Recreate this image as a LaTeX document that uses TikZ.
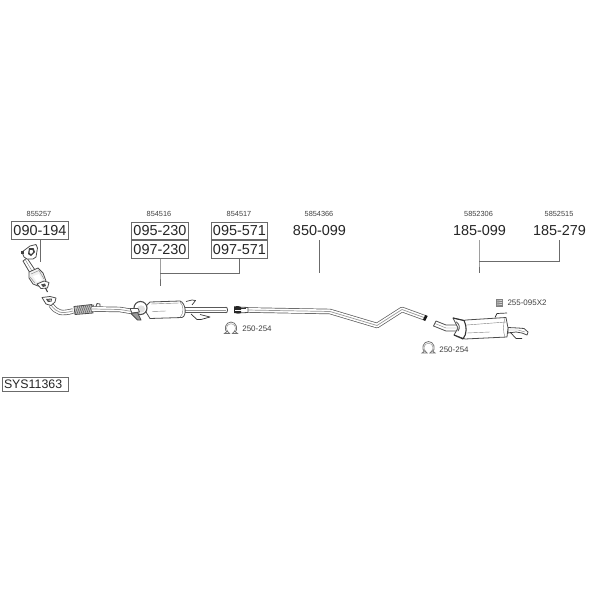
\documentclass[tikz,border=0pt]{standalone}
\usepackage{fontspec}
\usetikzlibrary{calc}
\setmainfont{Liberation Sans}
\definecolor{ink}{gray}{0.25}
\definecolor{edge}{gray}{0.42}
\tikzset{
  partno/.style={font=\fontsize{14.5}{15}\selectfont,text=black!85,inner sep=0pt},
  partbox/.style={partno,draw=edge,line width=0.8pt,minimum width=56.5bp,minimum height=17.5bp},
  code/.style={font=\fontsize{7.4}{8}\selectfont,text=ink,inner sep=0pt},
  note/.style={font=\fontsize{8}{9}\selectfont,text=ink,inner sep=0pt},
  link/.style={draw=edge,line width=0.8pt},
  outl/.style={draw=black!70,line width=0.8pt,line join=round,line cap=round},
  thin line/.style={draw=black!50,line width=0.4pt},
  hook/.style={draw=black!80,line width=0.7pt,line join=round},
  tubeA/.style={draw=black!65,line width=5.4bp,line join=round},
  tubeB/.style={draw=white,line width=4bp,line join=round},
  tubeC/.style={draw=black!40,line width=0.7bp,line join=round},
  clampring/.style={draw=black!55,line width=0.8pt,fill=white},
}
\newcommand{\tubepath}[1]{%
  \draw[tubeA] #1; \draw[tubeB] #1; \draw[tubeC] #1;}
\newcommand{\clampicon}[1]{%
  \begin{scope}[shift={#1}]
    \draw[clampring] (-3.6,5) .. controls (-8,1) and (-5,-6) .. (0,-6)
       .. controls (5,-6) and (8,1) .. (3.6,5);
    \draw[draw=black!45,line width=0.4pt] (-3.4,3.2) .. controls (-6,0) and (-3.5,-4.2) .. (0,-4.2)
       .. controls (3.5,-4.2) and (6,0) .. (3.4,3.2);
    \draw[clampring] (-6.5,5.5) -- (-3.6,3.2) -- (-1.5,5.5) -- cycle;
    \draw[clampring] (6.5,5.5) -- (3.6,3.2) -- (1.5,5.5) -- cycle;
  \end{scope}}
\begin{document}
\begin{tikzpicture}[x=1bp,y=-1bp]
\useasboundingbox (0,0) rectangle (600,600);
\fill[white] (0,0) rectangle (600,600);

% ---------- codes
\node[code] (c1) at (39,214) {855257};
\node[code] (c2) at (159,214) {854516};
\node[code] (c3) at (239,214) {854517};
\node[code] (c4) at (319,214) {5854366};
\node[code] (c5) at (478.5,214) {5852306};
\node[code] (c6) at (559,214) {5852515};

% ---------- part numbers
\node[partbox] (a) at (40,230.5) {090-194};
\node[partbox] (b1) at (160,231) {095-230};
\node[partbox] (b2) at (160,249.5) {097-230};
\node[partbox] (c1b) at (239.5,231) {095-571};
\node[partbox] (c2b) at (239.5,249.5) {097-571};
\node[partno] (d) at (319.5,230.5) {850-099};
\node[partno] (e) at (479.5,230.5) {185-099};
\node[partno] (f) at (559.5,230.5) {185-279};
\node[draw=edge,line width=0.8pt,font=\fontsize{12.4}{13}\selectfont,text=black!85,
      minimum width=66bp,minimum height=14bp,inner sep=0pt,text width=62bp,align=left] (sys) at (35,384) {SYS11363};

% ---------- connectors
\coordinate (aend) at (40,262);
\coordinate (bjoin) at (160,273);
\coordinate (bend) at (160,285.5);
\coordinate (cjoin) at (239.5,273);
\coordinate (dtop) at (319.5,240);
\coordinate (dend) at (319.5,273);
\coordinate (etop) at (479,240);
\coordinate (ejoin) at (479,261.5);
\coordinate (eend) at (479,272.5);
\coordinate (ftop) at (559.5,240);
\coordinate (fjoin) at (559.5,261.5);
\draw[link] (a.south) -- (aend);
\draw[link] (b1.south) -- (b2.north);
\draw[link] (c1b.south) -- (c2b.north);
\draw[link] (b2.south) -- (bjoin) -- (bend);
\draw[link] (c2b.south) -- (cjoin) -- (bjoin);
\draw[link] (dtop) -- (dend);
\draw[link] (etop) -- (ejoin) -- (eend);
\draw[link] (ftop) -- (fjoin) -- (ejoin);

% ---------- catalytic converter
\draw[outl,fill=white] (27,258) -- (35,270) -- (30,273) -- (23,261) -- cycle;
\draw[thin line] (25.5,260) -- (32,271);
\draw[outl,fill=white] (22,252) -- (30,246) -- (36,244.5) -- (37.5,248) -- (36,257) -- (33,259) -- (27,259) -- (24,257) -- cycle;
\fill[black!75] (29,248) -- (33.5,248) -- (35,252) -- (31,256) -- (28,254) -- cycle;
\fill[white] (30,250) -- (32.5,250) -- (33,252) -- (31,254) -- (29.5,252.5) -- cycle;
\fill[black!75] (20.5,250.5) rectangle (24,254);
\draw[outl,fill=black!6] (29,272) -- (38,268) -- (43,273) -- (46,281) -- (38,286) -- (33,284) -- (29,278) -- cycle;
\draw[thin line] (31,274) -- (39,270.5) -- (44,279);
\draw[thin line] (30,277) -- (35,283);
\fill[white] (33,276) -- (39,274) -- (42,280) -- (37,282) -- cycle;
\draw[outl,fill=white] (37,284) -- (44,281) -- (49,282.5) -- (47.5,288) -- (41,288.5) -- cycle;
\fill[black!70] (41,284.5) -- (45,283.5) -- (46,286) -- (43,287) -- cycle;
\draw[draw=black!80,line width=1pt] (45.5,288) -- (47.5,292);

% ---------- front pipe
\tubepath{(51,305) .. controls (57,313) and (61,314) .. (73,311)}
\draw[outl,fill=white] (42,297.5) -- (50,296.5) -- (56,298) -- (55,302) -- (51,305.5) -- (46,304) -- cycle;
\fill[black!70] (46,299) -- (52,298.5) -- (51.5,301.5) -- (48,302) -- cycle;
\fill[white] (48,300) -- (51,299.5) -- (50.5,300.8) -- cycle;
\draw[outl,fill=black!25] (74,306.5) -- (92,304.5) -- (93,313) -- (75,314.5) -- cycle;
\foreach \i in {0,2,...,16} {\draw[draw=black!65,line width=0.5pt] ($(75,314)+(\i,-0.1*\i)$) -- ++(3,-8);}
\draw[outl] (96,306.5) -- (97,303.5) -- (100,304) -- (100,306.5);
\tubepath{(92,309) -- (120,309.5) -- (132,311.5)}

% ---------- front silencer
\tubepath{(184,310) -- (226,310)}
\draw[outl,fill=white] (226,307.2) .. controls (228,307.2) and (228,312.8) .. (226,312.8);
\draw[outl,fill=white] (150,302) -- (180,301) .. controls (186,303) and (187,316) .. (182,317.5)
   -- (150,318.5) -- (146,312) -- (146,306) -- cycle;
\draw[thin line] (152,311.5) -- (166,311);
\draw[thin line] (151,304) -- (179,303);
\draw[thin line] (180,302) .. controls (184,306) and (184,313) .. (180,317.5);
\draw[draw=black!70,line width=1.1pt,fill=white] (140.5,308) ellipse[x radius=6.5,y radius=6.5];
\fill[black!12] (141,309) ellipse[x radius=4,y radius=3.6];
\draw[outl,fill=white] (130,308.5) -- (138,308.5) -- (139.5,312) -- (132,313) -- cycle;
\draw[outl,fill=black!40] (131,313.5) -- (137.5,312.5) -- (141,320) -- (137.5,320) -- cycle;
\draw[hook] (186,301.5) -- (192,300) -- (195.5,300.5) -- (192,305);
\draw[hook] (191,314) -- (197,319.5) -- (201,319.5) -- (210,317) -- (200,314.5);

% ---------- centre pipe
\tubepath{(247,310) -- (330,311.5) -- (377,325.5) -- (402,309.5) -- (424,317.5)}
\draw[outl,fill=white] (237,307) -- (248,307.5) -- (248,312.5) -- (237,313) -- cycle;
\fill[black!85] (234,306.5) -- (238,306) -- (241,307) -- (241,313) -- (238,313.5) -- (234,313) -- cycle;
\draw[draw=white,line width=0.8pt] (235,310) -- (246,310);
\draw[draw=black!80,line width=0.8pt] (241,308.5) -- (246,308.5);
\draw[draw=black!90,line width=2.6pt] (426.5,315.5) -- (424,320.5);

% ---------- rear silencer
\draw[outl,fill=white] (436,321) -- (446,325) -- (459,325) -- (459,331) -- (446,331) -- (433.5,326) -- cycle;
\draw[thin line] (435,323.5) -- (446,328) -- (458,328);
\draw[outl,fill=white] (508,327.5) -- (518,328) -- (524,328.5) -- (528,332) -- (527,335) -- (522,333) -- (516,332) -- (508,333) -- cycle;
\draw[thin line] (509,330) -- (518,330) -- (525,332);
\draw[outl,fill=white] (453,318) -- (464,320.5) -- (466,320) -- (506,317.5) -- (508,328) -- (507,337) -- (465,339) -- (454,335) -- (458,328) -- cycle;
\draw[draw=black!80,line width=1.1pt,line join=round] (453,318) -- (464,320.5) .. controls (467,326) and (467,334) .. (463,339) -- (454,335);
\draw[thin line] (467,325) -- (506,322);
\draw[thin line] (467,333) -- (490,332);
\draw[thin line] (505,318) .. controls (503,324) and (503,332) .. (505,337);
\draw[outl] (456.5,322) .. controls (460,325) and (460,328) .. (458,331);
\draw[hook] (495,317.5) -- (497,313.5) -- (507,313);
\draw[hook] (510,332) -- (516,338.5) -- (522,338.5);

% ---------- clamps and their notes
\clampicon{(231,328)}
\node[note] (n1) at (257,328.5) {250-254};
\clampicon{(428.5,347.5)}
\node[note] (n2) at (454,349.5) {250-254};
\fill[black!50] (496,299) rectangle (503,307);
\draw[draw=white,line width=0.5pt] (497,301) -- (502,300.5) (497,303) -- (502,302.5) (497,305) -- (502,304.5);
\node[note] (n3) at (527,303) {255-095X2};
\end{tikzpicture}
\end{document}
